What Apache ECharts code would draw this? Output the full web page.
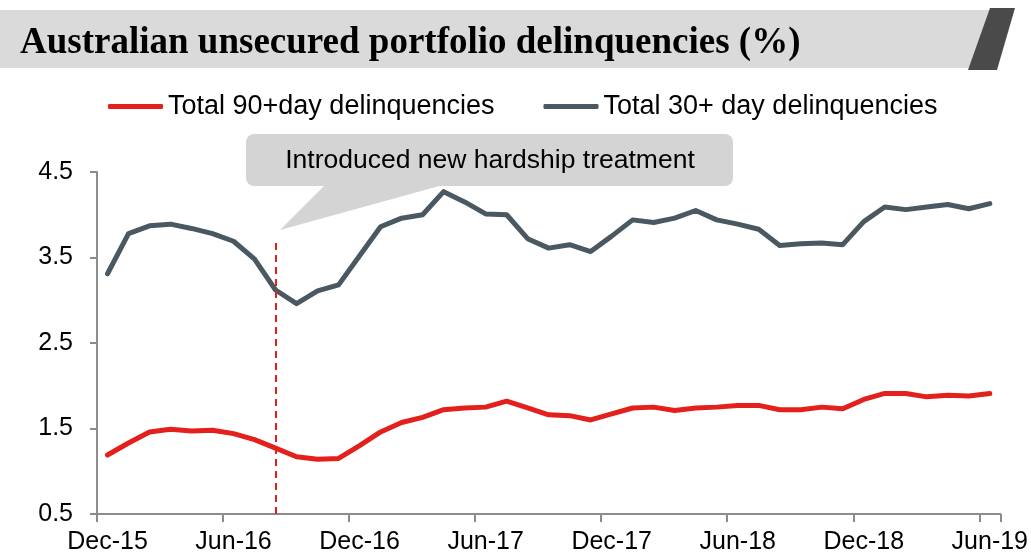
<!DOCTYPE html>
<html>
<head>
<meta charset="utf-8">
<script src="https://cdn.jsdelivr.net/npm/echarts@6/dist/echarts.min.js"></script>
<style>
  html, body { margin: 0; padding: 0; background: #fff; }
  #main { width: 1031px; height: 555px; }
</style>
</head>
<body>
<div id="main"></div>
<script>
const months = [
  'Dec-15', 'Jan-16', 'Feb-16', 'Mar-16', 'Apr-16', 'May-16', 'Jun-16', 'Jul-16', 'Aug-16', 'Sep-16', 'Oct-16', 'Nov-16',
  'Dec-16', 'Jan-17', 'Feb-17', 'Mar-17', 'Apr-17', 'May-17', 'Jun-17', 'Jul-17', 'Aug-17', 'Sep-17', 'Oct-17', 'Nov-17',
  'Dec-17', 'Jan-18', 'Feb-18', 'Mar-18', 'Apr-18', 'May-18', 'Jun-18', 'Jul-18', 'Aug-18', 'Sep-18', 'Oct-18', 'Nov-18',
  'Dec-18', 'Jan-19', 'Feb-19', 'Mar-19', 'Apr-19', 'May-19', 'Jun-19'
]
// Total 90+day delinquencies (%)
const total90 = [
  1.19, 1.33, 1.46, 1.49, 1.47, 1.48, 1.44, 1.37, 1.27, 1.17, 1.14, 1.15,
  1.30, 1.46, 1.57, 1.63, 1.72, 1.74, 1.75, 1.82, 1.74, 1.66, 1.65, 1.60,
  1.67, 1.74, 1.75, 1.71, 1.74, 1.75, 1.77, 1.77, 1.72, 1.72, 1.75, 1.73,
  1.84, 1.91, 1.91, 1.87, 1.89, 1.88, 1.91
]
// Total 30+ day delinquencies (%)
const total30 = [
  3.31, 3.78, 3.87, 3.89, 3.84, 3.78, 3.69, 3.48, 3.12, 2.96, 3.11, 3.18,
  3.52, 3.86, 3.96, 4.00, 4.27, 4.15, 4.01, 4.00, 3.72, 3.61, 3.65, 3.57,
  3.75, 3.94, 3.91, 3.96, 4.05, 3.94, 3.89, 3.83, 3.64, 3.66, 3.67, 3.65,
  3.92, 4.09, 4.06, 4.09, 4.12, 4.07, 4.13
]
const yTicks = [0.5, 1.5, 2.5, 3.5, 4.5]
const hardshipMonth = 'Aug-16'
const hardshipTop = 3.67

const font = 'Liberation Sans, Arial, sans-serif'
const axisGrey = '#8c8c8c'

const chart = echarts.init(document.getElementById('main'), null, { renderer: 'canvas' })

const option = {
  animation: false,
  grid: { left: 97, right: 29, top: 172, bottom: 41, containLabel: false },
  legend: {
    top: 93,
    left: 108,
    padding: 0,
    itemWidth: 55,
    itemHeight: 5,
    itemGap: 49,
    icon: 'roundRect',
    textStyle: { fontFamily: font, fontSize: 27, color: '#000' },
    data: ['Total 90+day delinquencies', 'Total 30+ day delinquencies']
  },
  xAxis: {
    type: 'category',
    data: months,
    boundaryGap: true,
    axisLine: { lineStyle: { color: axisGrey, width: 2 } },
    axisTick: { show: true, interval: 5, length: 8, lineStyle: { color: axisGrey, width: 2 } },
    axisLabel: { interval: 5, margin: 16, fontFamily: font, fontSize: 25, color: '#000' },
    splitLine: { show: false }
  },
  yAxis: {
    type: 'value',
    min: 0.5,
    max: 4.5,
    axisLine: { show: true, lineStyle: { color: axisGrey, width: 2 } },
    axisTick: { show: true, length: 7, customValues: yTicks, lineStyle: { color: axisGrey, width: 2 } },
    axisLabel: { margin: 24, customValues: yTicks, fontFamily: font, fontSize: 25, color: '#000' },
    splitLine: { show: false }
  },
  series: [
    {
      name: 'Total 90+day delinquencies',
      type: 'line',
      data: total90,
      showSymbol: false,
      symbol: 'none',
      color: '#e3201b',
      lineStyle: { width: 5, color: '#e3201b', cap: 'round', join: 'round' },
      markLine: {
        silent: true,
        symbol: 'none',
        label: { show: false },
        lineStyle: { color: '#e3201b', type: [7, 5], width: 2 },
        data: [[
          { coord: [hardshipMonth, hardshipTop] },
          { coord: [hardshipMonth, 0.5] }
        ]]
      }
    },
    {
      name: 'Total 30+ day delinquencies',
      type: 'line',
      data: total30,
      showSymbol: false,
      symbol: 'none',
      color: '#4a5862',
      lineStyle: { width: 5, color: '#4a5862', cap: 'round', join: 'round' }
    }
  ],
  graphic: [
    // title banner
    {
      type: 'polygon',
      shape: { points: [[0, 10], [991, 10], [971, 68], [0, 68]] },
      style: { fill: '#d9dad9' }
    },
    {
      type: 'polygon',
      shape: { points: [[990, 8], [1015, 8], [997, 70], [968, 70]] },
      style: { fill: '#4a4a4a' }
    },
    {
      type: 'text',
      left: 20,
      top: 25,
      style: {
        text: 'Australian unsecured portfolio delinquencies (%)',
        font: 'bold 37px "Liberation Serif", "Times New Roman", serif',
        fill: '#000'
      }
    },
    // callout
    {
      type: 'rect',
      shape: { x: 246, y: 134, width: 487, height: 52, r: 8 },
      style: { fill: '#d4d4d4' }
    },
    {
      type: 'polygon',
      shape: { points: [[325, 185], [443, 185], [280, 230]] },
      style: { fill: '#d4d4d4' }
    },
    {
      type: 'text',
      x: 490,
      y: 161,
      style: {
        text: 'Introduced new hardship treatment',
        font: '26.5px "Liberation Sans", Arial, sans-serif',
        fill: '#000',
        align: 'center',
        verticalAlign: 'middle'
      }
    }
  ]
}

chart.setOption(option)
</script>
</body>
</html>
